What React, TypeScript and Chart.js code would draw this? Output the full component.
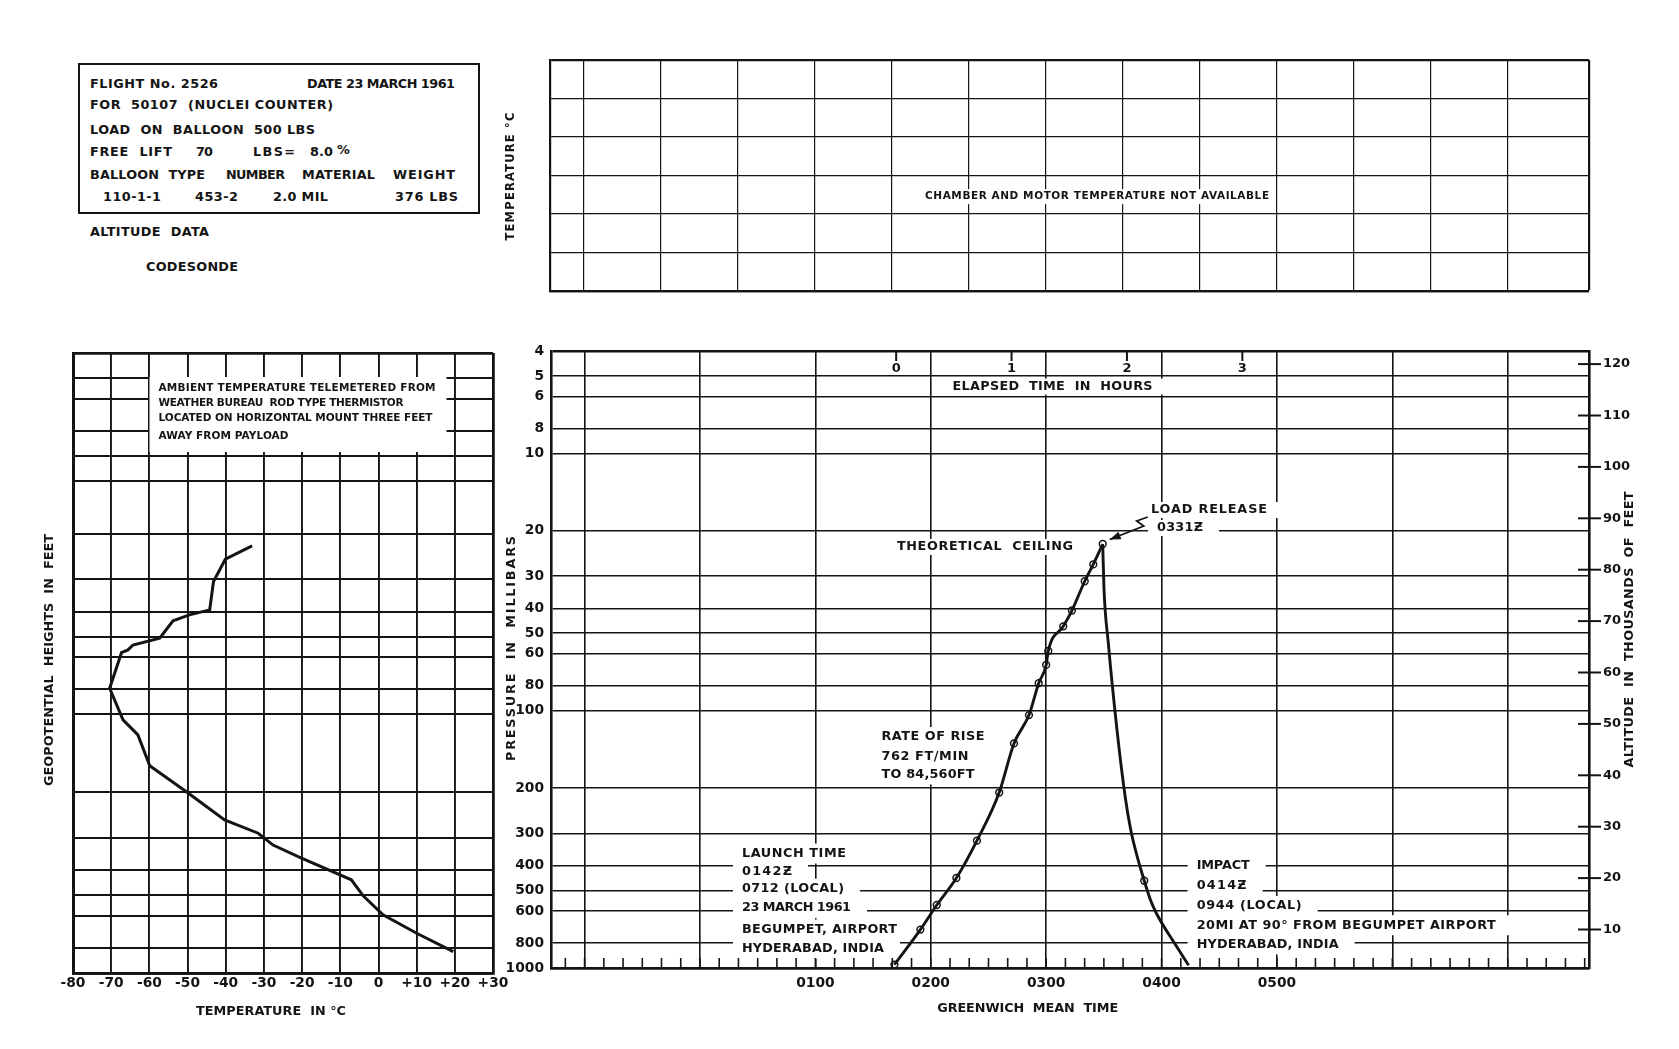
import React, { useEffect, useRef } from 'react';
import { Chart, registerables } from 'chart.js';

Chart.register(...registerables);

const FONT = '"DejaVu Sans", "Noto Sans", sans-serif';
const INK = '#141414';
const PAGE_W = 1679;
const PAGE_H = 1049;

Chart.defaults.font.family = FONT;
Chart.defaults.font.weight = 'bold';
Chart.defaults.color = INK;

// ---------------- data ----------------
const pressureTicksMb = [4, 5, 6, 8, 10, 20, 30, 40, 50, 60, 80, 100, 200, 300, 400, 500, 600, 800, 1000];
const profileGridMb = [4, 5, 6, 8, 10, 12.5, 20, 30, 40, 50, 60, 80, 100, 200, 300, 400, 500, 600, 800, 1000];
const altitudeTicksKft = [10, 20, 30, 40, 50, 60, 70, 80, 90, 100, 110, 120];
const gmtGridHours = [-1, 0, 1, 2, 3, 4, 5, 6, 7];
const gmtLabelHours = [1, 2, 3, 4, 5];
const gmtTickLabels = ['0100', '0200', '0300', '0400', '0500'];
const chamberGridHours = [-1, -1 / 3, 1 / 3, 1, 5 / 3, 7 / 3, 3, 11 / 3, 13 / 3, 5, 17 / 3, 19 / 3, 7];
const chamberGridRows = [0, 1, 2, 3, 4, 5, 6];
const elapsedTickHours = [0, 1, 2, 3];
const launchGmtHour = 1.7; // 0142Z
const temperatureTicksC = [-80, -70, -60, -50, -40, -30, -20, -10, 0, 10, 20, 30];

// balloon flight (GMT hours, pressure mb)
const ascentGmtHour = [1.685, 1.91, 2.052, 2.222, 2.4, 2.593, 2.721, 2.851, 2.935, 3.0, 3.018, 3.148, 3.223, 3.334, 3.408, 3.49];
const ascentPressureMb = [970, 709, 569, 447, 320, 208, 134, 104, 78.2, 66.4, 58.6, 47.0, 40.8, 31.4, 27.0, 22.5];
const descentGmtHour = [3.49, 3.501, 3.538, 3.612, 3.686, 3.733, 3.789, 3.85, 3.904, 3.956, 4.125, 4.234];
const descentPressureMb = [22.5, 33.6, 54.3, 116.8, 218, 291, 369, 458, 544, 614, 818, 975];
const descentMarkedIndex = 7;

// ambient temperature profile (deg C, pressure-level height)
const ambientTempC = [19.6, 10.0, 1.2, -4.0, -7.1, -20.6, -27.6, -31.5, -40.3, -50.3, -59.9, -63.0, -66.9, -70.4, -67.3, -65.6, -64.3, -57.3, -53.8, -49.5, -44.2, -43.2, -40.1, -33.1];
const ambientPressureMb = [827, 702, 596, 503, 436, 357, 320, 288, 256, 199, 158, 120, 105, 79.2, 57.7, 56.3, 53.9, 50.7, 43.4, 41.2, 39.4, 30.6, 25.1, 22.3];

// ---------------- layout / annotation config ----------------
const GMT_MIN = -1.291;
const GMT_MAX = 7.704;
const ALT_MIN = 2.51;
const ALT_MAX = 122.55;

type Note = { lines: string[]; hour: number; mb: number[]; widths: number[]; align?: 'left' | 'center'; size?: number };

const mainNotes: Note[] = [
  { lines: ['ELAPSED  TIME  IN  HOURS'], hour: 3.055, mb: [5.5], widths: [200], align: 'center' },
  { lines: ['THEORETICAL  CEILING'], hour: 1.707, mb: [23.1], widths: [176] },
  { lines: ['LOAD RELEASE'], hour: 3.908, mb: [16.6], widths: [116] },
  { lines: ['0331Ƶ'], hour: 3.96, mb: [19.5], widths: [46] },
  { lines: ['RATE OF RISE', '762 FT/MIN', 'TO 84,560FT'], hour: 1.573, mb: [126.6, 150.7, 177], widths: [103, 87, 93] },
  {
    lines: ['LAUNCH TIME', '0142Ƶ', '0712 (LOCAL)', '23 MARCH 1961', 'BEGUMPET, AIRPORT', 'HYDERABAD, INDIA'],
    hour: 0.364,
    mb: [359, 422, 492, 585, 709, 842],
    widths: [104, 50, 102, 109, 155, 142],
  },
  {
    lines: ['IMPACT', '0414Ƶ', '0944 (LOCAL)', '20MI AT 90° FROM BEGUMPET AIRPORT', 'HYDERABAD, INDIA'],
    hour: 4.304,
    mb: [402, 478, 574, 682, 810],
    widths: [53, 50, 105, 299, 142],
  },
];

const profileNote = {
  lines: ['AMBIENT TEMPERATURE TELEMETERED FROM', 'WEATHER BUREAU  ROD TYPE THERMISTOR', 'LOCATED ON HORIZONTAL MOUNT THREE FEET', 'AWAY FROM PAYLOAD'],
  widths: [277, 245, 274, 130],
};

const infoItems = [
  { text: 'FLIGHT No. 2526', x: 90, y: 84, w: 128 },
  { text: 'DATE 23 MARCH 1961', x: 307, y: 84, w: 148 },
  { text: 'FOR  50107  (NUCLEI COUNTER)', x: 90, y: 105, w: 243 },
  { text: 'LOAD  ON  BALLOON  500 LBS', x: 90, y: 129.5, w: 225 },
  { text: 'FREE  LIFT', x: 90, y: 152, w: 82 },
  { text: '70', x: 196, y: 152, w: 17 },
  { text: 'LBS=', x: 253, y: 152, w: 42 },
  { text: '8.0', x: 310, y: 152, w: 23 },
  { text: '%', x: 337, y: 150, w: 13 },
  { text: 'BALLOON  TYPE', x: 90, y: 174.7, w: 115 },
  { text: 'NUMBER', x: 226, y: 174.7, w: 59 },
  { text: 'MATERIAL', x: 302, y: 174.7, w: 73 },
  { text: 'WEIGHT', x: 393, y: 174.7, w: 62 },
  { text: '110-1-1', x: 103, y: 197, w: 58 },
  { text: '453-2', x: 195, y: 197, w: 43 },
  { text: '2.0 MIL', x: 273, y: 197, w: 55 },
  { text: '376 LBS', x: 395, y: 197, w: 63 },
  { text: 'ALTITUDE  DATA', x: 90, y: 231.7, w: 119 },
  { text: 'CODESONDE', x: 146, y: 267, w: 92 },
];

// ---------------- text helpers ----------------
let measureCtx: any = null;
function fitSpacing(text: string, size: number, target: number) {
  if (!measureCtx) measureCtx = document.createElement('canvas').getContext('2d');
  measureCtx.font = `bold ${size}px ${FONT}`;
  const w = measureCtx.measureText(text).width;
  if (text.length < 2) return 0;
  return Math.max(-1, Math.min(8, (target - w) / (text.length - 1)));
}

function prepText(ctx: any, text: string, size: number, target?: number) {
  ctx.font = `bold ${size}px ${FONT}`;
  ctx.letterSpacing = '0px';
  const w0 = ctx.measureText(text).width;
  let ls = 0;
  if (target && text.length > 1) ls = Math.max(-1, Math.min(8, (target - w0) / (text.length - 1)));
  return { ls, width: w0 + ls * (text.length - 1) };
}

function drawText(ctx: any, text: string, x: number, y: number, size: number, target?: number, align: 'left' | 'center' | 'right' = 'left', angle = 0) {
  ctx.save();
  const { ls, width } = prepText(ctx, text, size, target);
  ctx.letterSpacing = `${ls}px`;
  ctx.fillStyle = INK;
  ctx.textAlign = 'left';
  ctx.textBaseline = 'middle';
  ctx.translate(x, y);
  if (angle) ctx.rotate(angle);
  const dx = align === 'center' ? -width / 2 : align === 'right' ? -width : 0;
  ctx.fillText(text, dx, 0);
  ctx.restore();
  return width;
}

function line(ctx: any, x1: number, y1: number, x2: number, y2: number, w: number) {
  ctx.beginPath();
  ctx.lineWidth = w;
  ctx.strokeStyle = INK;
  ctx.moveTo(x1, y1);
  ctx.lineTo(x2, y2);
  ctx.stroke();
}

const edgeWidth = (edges: number[], thick: number, thin: number) => (c: any) =>
  c.tick && edges.indexOf(c.tick.value) >= 0 ? thick : thin;

// ---------------- plugins ----------------
const mainDecor = {
  id: 'mainDecor',
  beforeDatasetsDraw(chart: any) {
    const { ctx, chartArea: a, scales } = chart;
    const x = scales.x;
    const y = scales.y;
    const y2 = scales.y2;
    ctx.save();
    const size = 12.8;
    const items: any[] = [];
    for (const n of mainNotes) {
      const px = x.getPixelForValue(n.hour);
      n.lines.forEach((txt, i) => {
        const py = y.getPixelForValue(n.mb[i]);
        const { width } = prepText(ctx, txt, n.size ?? size, n.widths[i]);
        const left = n.align === 'center' ? px - width / 2 : px;
        const h = n.lines.length > 1 ? 20 : 16;
        ctx.fillStyle = '#fff';
        ctx.fillRect(left - 9, py - h / 2, width + 9 + 16, h);
        items.push({ txt, left, py, w: n.widths[i], size: n.size ?? size });
      });
    }
    for (const it of items) drawText(ctx, it.txt, it.left, it.py, it.size, it.w);

    // elapsed-time ticks and labels along the top
    for (const e of elapsedTickHours) {
      const px = x.getPixelForValue(launchGmtHour + e);
      line(ctx, px, a.top, px, a.top + 10, 2);
      drawText(ctx, String(e), px, a.top + 18, 13, undefined, 'center');
    }
    // 10-minute ticks along the bottom
    for (let k = Math.ceil(GMT_MIN * 6); k <= Math.floor(GMT_MAX * 6); k++) {
      const px = x.getPixelForValue(k / 6);
      line(ctx, px, a.bottom, px, a.bottom - 10, 1.6);
    }
    // altitude ticks crossing the right frame
    for (const v of altitudeTicksKft) {
      const py = y2.getPixelForValue(v);
      line(ctx, a.right - 11, py, a.right + 12, py, 2);
    }
    // load release arrow
    const last = ascentGmtHour.length - 1;
    const pkx = x.getPixelForValue(ascentGmtHour[last]);
    const pky = y.getPixelForValue(ascentPressureMb[last]);
    const pts = [[45, -27], [34, -23], [41, -18], [7, -4.5]];
    ctx.beginPath();
    ctx.lineWidth = 1.8;
    ctx.strokeStyle = INK;
    ctx.moveTo(pkx + pts[0][0], pky + pts[0][1]);
    for (let i = 1; i < pts.length; i++) ctx.lineTo(pkx + pts[i][0], pky + pts[i][1]);
    ctx.stroke();
    const tx = pkx + pts[3][0];
    const ty = pky + pts[3][1];
    const ang = Math.atan2(pts[3][1] - pts[2][1], pts[3][0] - pts[2][0]);
    ctx.beginPath();
    ctx.fillStyle = INK;
    ctx.moveTo(tx, ty);
    ctx.lineTo(tx - 11 * Math.cos(ang) + 4 * Math.sin(ang), ty - 11 * Math.sin(ang) - 4 * Math.cos(ang));
    ctx.lineTo(tx - 11 * Math.cos(ang) - 4 * Math.sin(ang), ty - 11 * Math.sin(ang) + 4 * Math.cos(ang));
    ctx.closePath();
    ctx.fill();
    ctx.restore();
  },
  afterDraw(chart: any) {
    const { ctx, chartArea: a, scales } = chart;
    const mid = (a.top + a.bottom) / 2;
    drawText(ctx, 'PRESSURE  IN  MILLIBARS', a.left - 39, mid - 11, 12.8, 225, 'center', -Math.PI / 2);
    drawText(ctx, 'ALTITUDE  IN  THOUSANDS  OF  FEET', a.right + 41, mid - 30, 12.8, 276, 'center', -Math.PI / 2);
    drawText(ctx, 'GREENWICH  MEAN  TIME', scales.x.getPixelForValue(2.84), a.bottom + 41, 12.8, 181, 'center');
  },
};

const topDecor = {
  id: 'topDecor',
  beforeDatasetsDraw(chart: any) {
    const { ctx, chartArea: a, scales } = chart;
    const px = scales.x.getPixelForValue(3.445);
    const py = scales.y.getPixelForValue(2.45);
    const txt = 'CHAMBER AND MOTOR TEMPERATURE NOT AVAILABLE';
    const { width } = prepText(ctx, txt, 10.5, 344);
    ctx.save();
    ctx.fillStyle = '#fff';
    ctx.fillRect(px - width / 2 - 6, py - 7.5, width + 12, 15);
    ctx.restore();
    drawText(ctx, txt, px, py, 10.5, 344, 'center');
    drawText(ctx, 'TEMPERATURE °C', a.left - 39, (a.top + a.bottom) / 2 + 1, 11.5, 128, 'center', -Math.PI / 2);
  },
};

const profileDecor = {
  id: 'profileDecor',
  beforeDatasetsDraw(chart: any) {
    const { ctx, chartArea: a, scales } = chart;
    const left = scales.x.getPixelForValue(-57.6);
    ctx.save();
    ctx.fillStyle = '#fff';
    ctx.fillRect(left - 9, a.top + 24, 297, 75);
    ctx.restore();
    const rows = [388.5, 403, 418.5, 436];
    profileNote.lines.forEach((t, i) => drawText(ctx, t, left, rows[i] - 353 + a.top, 10.5, profileNote.widths[i]));
  },
  afterDraw(chart: any) {
    const { ctx, chartArea: a } = chart;
    drawText(ctx, 'GEOPOTENTIAL  HEIGHTS  IN  FEET', a.left - 23, (a.top + a.bottom) / 2 - 3, 12.8, 252, 'center', -Math.PI / 2);
    drawText(ctx, 'TEMPERATURE  IN °C', a.left + 198, a.bottom + 39, 12.8, 150, 'center');
  },
};

// ---------------- charts ----------------
function makeMain(canvas: HTMLCanvasElement) {
  const ascent = ascentGmtHour.map((h, i) => ({ x: h, y: ascentPressureMb[i] }));
  const descent = descentGmtHour.map((h, i) => ({ x: h, y: descentPressureMb[i] }));
  const L = 551, R = 1589, T = 351, B = 968;
  return new Chart(canvas, {
    type: 'line',
    data: {
      datasets: [
        {
          label: 'Ascent',
          data: ascent,
          borderColor: INK,
          borderWidth: 2.9,
          pointRadius: 3.4,
          pointBorderWidth: 1.5,
          pointBorderColor: INK,
          pointBackgroundColor: 'rgba(0,0,0,0)',
          cubicInterpolationMode: 'monotone',
          fill: false,
        },
        {
          label: 'Descent',
          data: descent,
          borderColor: INK,
          borderWidth: 2.9,
          pointRadius: descent.map((_, i) => (i === descentMarkedIndex ? 3.4 : 0)),
          pointBorderWidth: 1.5,
          pointBorderColor: INK,
          pointBackgroundColor: 'rgba(0,0,0,0)',
          cubicInterpolationMode: 'monotone',
          fill: false,
        },
      ],
    },
    options: {
      animation: false,
      responsive: false,
      maintainAspectRatio: false,
      events: [],
      layout: { padding: { left: L - 60, right: PAGE_W - R - 70, top: T, bottom: PAGE_H - B - 45 } },
      plugins: { legend: { display: false }, tooltip: { enabled: false } },
      scales: {
        x: {
          type: 'linear',
          position: 'bottom',
          min: GMT_MIN,
          max: GMT_MAX,
          afterBuildTicks: (s: any) => { s.ticks = gmtGridHours.map((v) => ({ value: v })); },
          afterFit: (s: any) => { s.height = 45; },
          grid: { color: INK, lineWidth: 1.6, drawTicks: false },
          border: { display: true, color: INK, width: 2.6 },
          ticks: {
            autoSkip: false,
            maxRotation: 0,
            padding: 7,
            color: INK,
            font: { size: 13.8, weight: 'bold' },
            callback: (v: any) => {
              const i = gmtLabelHours.indexOf(Number(v));
              return i >= 0 ? gmtTickLabels[i] : '';
            },
          },
        },
        y: {
          type: 'logarithmic',
          position: 'left',
          reverse: true,
          min: 4,
          max: 1000,
          afterBuildTicks: (s: any) => { s.ticks = pressureTicksMb.map((v) => ({ value: v })); },
          afterFit: (s: any) => { s.width = 60; },
          grid: { color: INK, lineWidth: edgeWidth([4, 1000], 2.6, 1.6), drawTicks: false },
          border: { display: true, color: INK, width: 2.6 },
          ticks: { autoSkip: false, padding: 7, color: INK, font: { size: 13.8, weight: 'bold' }, callback: (v: any) => String(v) },
        },
        y2: {
          type: 'linear',
          position: 'right',
          min: ALT_MIN,
          max: ALT_MAX,
          afterBuildTicks: (s: any) => { s.ticks = altitudeTicksKft.map((v) => ({ value: v })); },
          afterFit: (s: any) => { s.width = 70; },
          grid: { display: false, drawTicks: false, drawOnChartArea: false },
          border: { display: true, color: INK, width: 2.6 },
          ticks: { autoSkip: false, padding: 14, color: INK, font: { size: 13, weight: 'bold' } },
        },
      },
    } as any,
    plugins: [mainDecor],
  } as any);
}

function makeTop(canvas: HTMLCanvasElement) {
  const L = 550, R = 1589, T = 60, B = 291;
  return new Chart(canvas, {
    type: 'line',
    data: { datasets: [] },
    options: {
      animation: false,
      responsive: false,
      maintainAspectRatio: false,
      events: [],
      layout: { padding: { left: L - 10, right: PAGE_W - R, top: T, bottom: PAGE_H - B - 10 } },
      plugins: { legend: { display: false }, tooltip: { enabled: false } },
      scales: {
        x: {
          type: 'linear',
          min: GMT_MIN,
          max: GMT_MAX,
          afterBuildTicks: (s: any) => { s.ticks = chamberGridHours.concat([GMT_MAX]).map((v) => ({ value: v })); },
          afterFit: (s: any) => { s.height = 10; },
          grid: { color: INK, lineWidth: edgeWidth([GMT_MAX], 2.2, 1.2), drawTicks: false },
          border: { display: true, color: INK, width: 2.2 },
          ticks: { display: false },
        },
        y: {
          type: 'linear',
          min: 0,
          max: 6,
          afterBuildTicks: (s: any) => { s.ticks = chamberGridRows.map((v) => ({ value: v })); },
          afterFit: (s: any) => { s.width = 10; },
          grid: { color: INK, lineWidth: edgeWidth([0, 6], 2.2, 1.3), drawTicks: false },
          border: { display: true, color: INK, width: 2.2 },
          ticks: { display: false },
        },
      },
    } as any,
    plugins: [topDecor],
  } as any);
}

function makeProfile(canvas: HTMLCanvasElement) {
  const L = 73, R = 493, T = 353, B = 973;
  const profile = ambientTempC.map((t, i) => ({ x: t, y: ambientPressureMb[i] }));
  return new Chart(canvas, {
    type: 'line',
    data: {
      datasets: [
        { label: 'Ambient temperature', data: profile, borderColor: INK, borderWidth: 3, pointRadius: 0, tension: 0, fill: false },
      ],
    },
    options: {
      animation: false,
      responsive: false,
      maintainAspectRatio: false,
      events: [],
      layout: { padding: { left: L - 20, right: PAGE_W - R, top: T, bottom: PAGE_H - B - 45 } },
      plugins: { legend: { display: false }, tooltip: { enabled: false } },
      scales: {
        x: {
          type: 'linear',
          min: -80,
          max: 30,
          afterBuildTicks: (s: any) => { s.ticks = temperatureTicksC.map((v) => ({ value: v })); },
          afterFit: (s: any) => { s.height = 45; },
          grid: { color: INK, lineWidth: edgeWidth([-80, 30], 2.8, 1.9), drawTicks: false },
          border: { display: true, color: INK, width: 2.8 },
          ticks: {
            autoSkip: false,
            maxRotation: 0,
            padding: 2,
            color: INK,
            font: { size: 13.8, weight: 'bold' },
            callback: (v: any) => (Number(v) > 0 ? '+' + v : String(v)),
          },
        },
        y: {
          type: 'logarithmic',
          reverse: true,
          min: 4,
          max: 1000,
          afterBuildTicks: (s: any) => { s.ticks = profileGridMb.map((v) => ({ value: v })); },
          afterFit: (s: any) => { s.width = 20; },
          grid: { color: INK, lineWidth: edgeWidth([4, 1000], 2.8, 1.9), drawTicks: false },
          border: { display: true, color: INK, width: 3 },
          ticks: { display: false },
        },
      },
    } as any,
    plugins: [profileDecor],
  } as any);
}

// ---------------- components ----------------
function InfoBox() {
  return (
    <>
      <div
        style={{
          position: 'absolute',
          left: 78,
          top: 63,
          width: 402,
          height: 151,
          border: `2px solid ${INK}`,
          boxSizing: 'border-box',
        }}
      />
      {infoItems.map((it, i) => (
        <div
          key={i}
          style={{
            position: 'absolute',
            left: it.x,
            top: it.y - 8,
            font: `bold 12.8px ${FONT}`,
            lineHeight: '16px',
            whiteSpace: 'pre',
            color: INK,
            letterSpacing: `${fitSpacing(it.text, 12.8, it.w)}px`,
          }}
        >
          {it.text}
        </div>
      ))}
    </>
  );
}

const canvasStyle: React.CSSProperties = {
  position: 'absolute',
  left: 0,
  top: 0,
  width: PAGE_W,
  height: PAGE_H,
};

export default function App() {
  const profileRef = useRef<HTMLCanvasElement>(null);
  const topRef = useRef<HTMLCanvasElement>(null);
  const mainRef = useRef<HTMLCanvasElement>(null);

  useEffect(() => {
    const charts = [makeProfile(profileRef.current!), makeTop(topRef.current!), makeMain(mainRef.current!)];
    return () => charts.forEach((c) => c.destroy());
  }, []);

  return (
    <div
      style={{
        position: 'absolute',
        left: 0,
        top: 0,
        width: PAGE_W,
        height: PAGE_H,
        background: '#fff',
        overflow: 'hidden',
        fontFamily: FONT,
      }}
    >
      <InfoBox />
      <canvas ref={profileRef} width={PAGE_W} height={PAGE_H} style={canvasStyle} />
      <canvas ref={topRef} width={PAGE_W} height={PAGE_H} style={canvasStyle} />
      <canvas ref={mainRef} width={PAGE_W} height={PAGE_H} style={canvasStyle} />
    </div>
  );
}
